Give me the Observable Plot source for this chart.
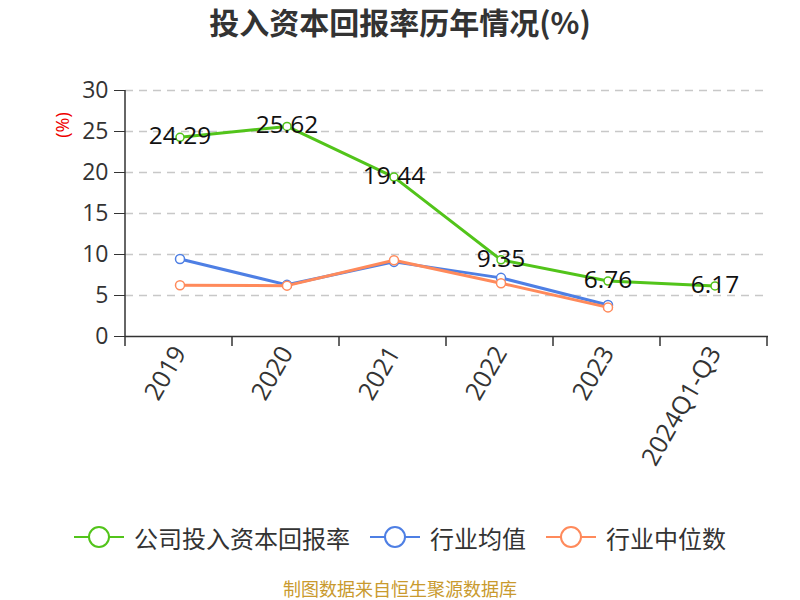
<!DOCTYPE html>
<html>
<head>
<meta charset="utf-8">
<script src="https://cdn.jsdelivr.net/npm/d3@7"></script>
<script src="https://cdn.jsdelivr.net/npm/@observablehq/plot@0.6"></script>
<style>
  body { margin: 0; background: #fff; font-family: "Open Sans", "Noto Sans CJK SC", sans-serif; }
  #wrap { position: relative; width: 800px; height: 600px; overflow: hidden; background: #fff; }
  #title { position: absolute; top: 1px; left: 0; width: 800px; text-align: center; font-size: 30px; line-height: 40px; font-weight: bold; color: #333; font-family: "Noto Sans CJK SC", sans-serif; }
  #chart { position: absolute; top: 0; left: 0; }
  #ylab { position: absolute; left: 62px; top: 125px; transform: translate(-50%, -50%) rotate(-90deg); color: #e00; font-size: 18px; white-space: nowrap; }
  #legend { position: absolute; top: 520px; left: 0; width: 800px; height: 34px; display: flex; justify-content: center; align-items: center; gap: 20px; }
  .item { display: flex; align-items: center; font-size: 24px; color: #333; font-family: "Noto Sans CJK SC", sans-serif; }
  .item svg { margin-right: 10px; }
  #caption { position: absolute; top: 576px; left: 0; width: 800px; text-align: center; font-size: 18px; line-height: 24px; color: #c99a2e; font-family: "Noto Sans CJK SC", sans-serif; }
</style>
</head>
<body>
<div id="wrap">
  <div id="title"></div>
  <div id="chart"></div>
  <div id="ylab">(%)</div>
  <div id="legend"></div>
  <div id="caption"></div>
</div>
<script>
const titleText = "投入资本回报率历年情况(%)";
const captionText = "制图数据来自恒生聚源数据库";
const years = ["2019", "2020", "2021", "2022", "2023", "2024Q1-Q3"];
const company = [24.29, 25.62, 19.44, 9.35, 6.76, 6.17];
const industryMean = [9.45, 6.3, 9.1, 7.15, 3.85, null];
const industryMedian = [6.25, 6.2, 9.3, 6.5, 3.55, null];
const yTicks = [0, 5, 10, 15, 20, 25, 30];
const seriesNames = ["公司投入资本回报率", "行业均值", "行业中位数"];
const colors = ["#52c41a", "#4e7fe4", "#ff8a5b"];

document.getElementById("title").textContent = titleText;
document.getElementById("caption").textContent = captionText;

const rows = (vals) => years.map((year, i) => ({year, value: vals[i]})).filter(d => d.value != null);
const dCompany = rows(company);
const dMean = rows(industryMean);
const dMedian = rows(industryMedian);

const seriesMarks = (data, color, r) => [
  Plot.lineY(data, {x: "year", y: "value", stroke: color, strokeWidth: 3}),
  Plot.dot(data, {x: "year", y: "value", r, fill: "#fff", stroke: color, strokeWidth: 1.5})
];

const chart = Plot.plot({
  width: 800,
  height: 480,
  marginTop: 90,
  marginLeft: 125,
  marginRight: 32,
  marginBottom: 144,
  style: {fontFamily: "'Open Sans', 'Noto Sans CJK SC', sans-serif", background: "transparent", overflow: "visible"},
  x: {type: "band", domain: years, paddingInner: 0, paddingOuter: 0},
  y: {domain: [0, 30]},
  marks: [
    Plot.ruleY(yTicks.filter(d => d > 0), {stroke: "#c8c8c8", strokeWidth: 1.5, strokeDasharray: "8,6"}),
    Plot.axisY({ticks: yTicks, tickSize: 11, tickPadding: 6, fontSize: 23, color: "#333", label: null}),
    Plot.axisX({tickSize: 0, tickPadding: 12, tickRotate: -60, fontSize: 25, color: "#333", label: null}),
    Plot.ruleY([0], {stroke: "#333", strokeWidth: 1.5}),
    ...seriesMarks(dMean, colors[1], 4.5),
    ...seriesMarks(dMedian, colors[2], 4.5),
    ...seriesMarks(dCompany, colors[0], 4),
    Plot.text(dCompany, {x: "year", y: "value", text: d => d.value.toFixed(2), fontSize: 24.5, fill: "#111", dy: -1})
  ]
});
document.getElementById("chart").appendChild(chart);

// axis line and category boundary ticks, derived from the scales
const xs = chart.scale("x");
const ys = chart.scale("y");
const svg = d3.select(chart);
const g = svg.append("g").attr("stroke", "#333").attr("stroke-width", 1.5);
const y0 = ys.apply(0), yTop = ys.apply(yTicks[yTicks.length - 1]);
g.append("line").attr("x1", xs.range[0]).attr("x2", xs.range[0]).attr("y1", yTop).attr("y2", y0);
for (let i = 0; i <= years.length; i++) {
  const x = xs.range[0] + i * xs.step;
  g.append("line").attr("x1", x).attr("x2", x).attr("y1", y0).attr("y2", y0 + 10);
}

// legend
const legend = d3.select("#legend");
seriesNames.forEach((name, i) => {
  const item = legend.append("div").attr("class", "item");
  const s = item.append("svg").attr("width", 50).attr("height", 26);
  s.append("line").attr("x1", 0).attr("x2", 50).attr("y1", 13).attr("y2", 13).attr("stroke", colors[i]).attr("stroke-width", 2);
  s.append("circle").attr("cx", 25).attr("cy", 13).attr("r", 10).attr("fill", "#fff").attr("stroke", colors[i]).attr("stroke-width", 2);
  item.append("span").text(name);
});
</script>
</body>
</html>
